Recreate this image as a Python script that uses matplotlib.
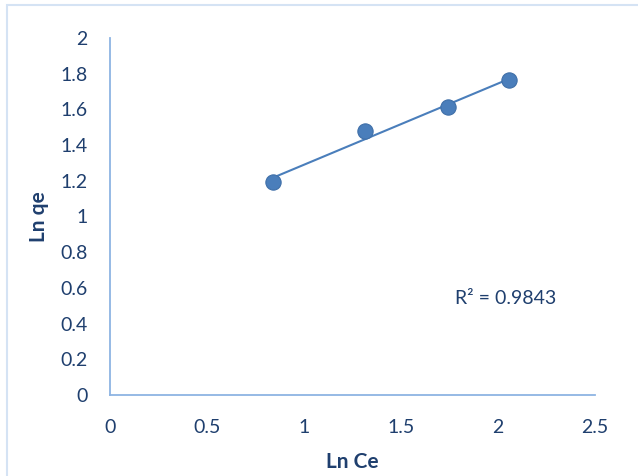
import numpy as np
import matplotlib.pyplot as plt
from matplotlib.patches import Rectangle

ln_ce = np.array([0.838, 1.317, 1.744, 2.058])
ln_qe = np.array([1.193, 1.479, 1.613, 1.765])
r2_text = 'R² = 0.9843'

plt.rcParams['font.family'] = ['Lato', 'DejaVu Sans']
txt = '#1F3F6E'
axis_col = '#8EB4E3'

fig = plt.figure(figsize=(6.38, 4.76), dpi=100)
ax = fig.add_axes([0.1724, 0.1702, 0.7602, 0.7500])

# linear trendline across the data range
k, b = np.polyfit(ln_ce, ln_qe, 1)
xs = np.array([ln_ce.min(), ln_ce.max()])
ax.plot(xs, k * xs + b, color='#4A7EBB', lw=1.5, zorder=2)
ax.plot(ln_ce, ln_qe, 'o', ms=11, color='#4A7EBB', mec='#3F6FA8', mew=0.8, zorder=3)

ax.set_xlim(0, 2.5)
ax.set_ylim(0, 2)
ax.set_xticks(np.arange(0, 2.51, 0.5))
ax.set_yticks(np.arange(0, 2.01, 0.2))
ax.set_xticklabels(['0', '0.5', '1', '1.5', '2', '2.5'])
ax.set_yticklabels(['0', '0.2', '0.4', '0.6', '0.8', '1', '1.2', '1.4', '1.6', '1.8', '2'])
ax.tick_params(length=0, labelsize=14, colors=txt, pad=16)
ax.tick_params(axis='x', pad=17)

for s in ['top', 'right']:
    ax.spines[s].set_visible(False)
for s in ['left', 'bottom']:
    ax.spines[s].set_color(axis_col)
    ax.spines[s].set_linewidth(1.3)

ax.set_xlabel('Ln Ce', fontsize=15, fontweight='bold', color=txt, labelpad=12)
ax.set_ylabel('Ln qe', fontsize=15, fontweight='bold', color=txt, labelpad=8)

ax.text(1.78, 0.54, r2_text, fontsize=14, color=txt, va='center', ha='left')

# chart border
fig.patches.append(Rectangle((7 / 638, -0.05), 1.2, 1 - 5 / 476 + 0.05, transform=fig.transFigure,
                             fill=False, ec='#D5E3F4', lw=1.5))

fig.savefig('out.png', dpi=100)
